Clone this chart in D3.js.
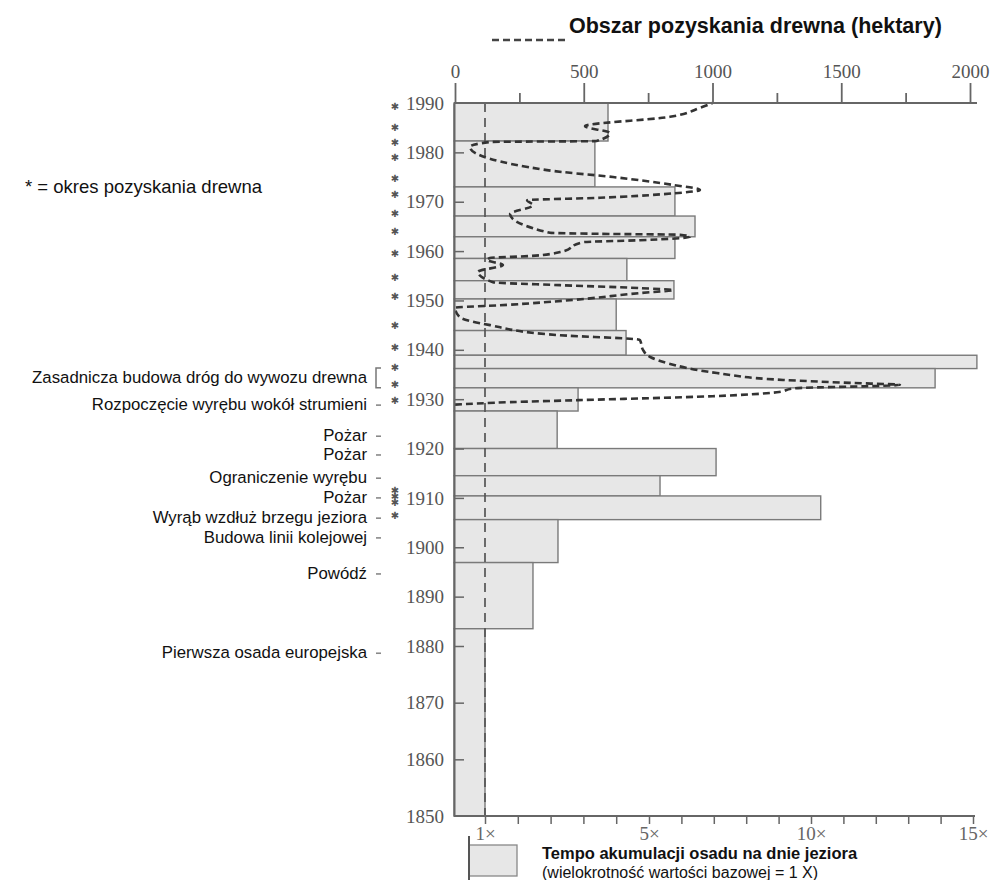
<!DOCTYPE html>
<html>
<head>
<meta charset="utf-8">
<script src="https://cdn.jsdelivr.net/npm/d3@7"></script>
<style>
  body { margin: 0; background: #fff; }
  .serif text { font-family: "Liberation Serif", "DejaVu Serif", serif; }
</style>
</head>
<body>
<script>
// decade ticks on the year axis
const yearTicks = [1990, 1980, 1970, 1960, 1950, 1940, 1930, 1920, 1910, 1900, 1890, 1880, 1870, 1860, 1850];

// sediment accumulation: band edges (years) and rate (multiple of baseline)
const sedimentEdges = [1990, 1982.3, 1973.0, 1967.1, 1962.9, 1958.5, 1954.0, 1950.3, 1943.9, 1938.9,
  1936.2, 1932.3, 1927.6, 1920.0, 1914.5, 1910.4, 1905.6, 1896.9, 1883.5, 1850];
const sedimentRate = [4.0, 3.68, 5.8, 6.42, 5.8, 4.46, 5.77, 4.2, 4.44, 15.12,
  13.83, 3.27, 2.76, 7.07, 5.34, 10.3, 2.78, 2.17, 1.0];

// timber harvest area (hectares) by year
const harvestYear = [1928.9, 1929.4, 1929.8, 1930.6, 1931.4, 1932.2, 1932.9, 1933.3, 1933.9, 1935.3,
  1937.3, 1938.5, 1940.0, 1942.0, 1943.0, 1945.0, 1946.6, 1948.5, 1949.1, 1950.1,
  1951.5, 1952.1, 1952.5, 1953.1, 1953.7, 1955.8, 1957.2, 1958.2, 1958.6, 1959.0,
  1959.8, 1961.8, 1962.2, 1962.9, 1963.3, 1963.5, 1963.7, 1967.5, 1969.3, 1970.3,
  1970.8, 1971.5, 1972.4, 1973.4, 1975.0, 1976.4, 1981.1, 1982.1, 1982.3, 1983.9,
  1985.3, 1987.2, 1989.0, 1990.0];
const harvestArea = [0, 214, 478, 1000, 1250, 1320, 1728, 1534, 1274, 1017,
  825, 760, 730, 718, 396, 136, 19, 0, 202, 458,
  718, 847, 718, 408, 148, 89, 186, 124, 136, 291,
  408, 497, 718, 913, 874, 563, 369, 214, 303, 280,
  563, 800, 951, 847, 614, 357, 58, 136, 550, 602,
  505, 835, 951, 1000];

// harvest-period markers
const starYears = [1989.2, 1985.1, 1981.9, 1978.9, 1974.8, 1971.4, 1967.7, 1963.9, 1959.6, 1954.7,
  1950.7, 1945.0, 1940.4, 1936.5, 1932.9, 1929.8, 1911.6, 1910.2, 1909.0, 1906.5];

// historical events
const eventLabels = ["Zasadnicza budowa dróg do wywozu drewna", "Rozpoczęcie wyrębu wokół strumieni",
  "Pożar", "Pożar", "Ograniczenie wyrębu", "Pożar", "Wyrąb wzdłuż brzegu jeziora",
  "Budowa linii kolejowej", "Powódź", "Pierwsza osada europejska"];
const eventYears = [1934.5, 1929.0, 1922.7, 1918.9, 1914.2, 1910.2, 1906.1, 1902.1, 1894.8, 1878.9];
const roadSpan = [1936.3, 1932.3];

const areaTicks = [0, 250, 500, 750, 1000, 1250, 1500, 1750, 2000];
const rateTicks = [1, 1.8, 2.6, 3.4, 4.2, 5, 6, 7, 8, 9, 10, 11, 12, 13, 14, 15];
const rateLabels = [1, 5, 10, 15];

const width = 990, height = 880;
const sans = "'Liberation Sans', Arial, sans-serif";

const svg = d3.select("body").append("svg")
  .attr("width", width)
  .attr("height", height);

svg.append("rect").attr("width", width).attr("height", height).attr("fill", "#fff");

// scales (the scan is not perfectly linear, so piecewise)
const y = d3.scaleLinear().domain([1850, 1880, 1990]).range([816, 646, 103]);
const xRate = d3.scaleLinear().domain([0, 1, 5, 15]).range([454, 485, 649, 973]);
const xArea = d3.scaleLinear().domain([0, 2000]).range([455, 970]);

// sediment bars
const bars = sedimentRate.map((r, i) => ({ rate: r, top: sedimentEdges[i], bottom: sedimentEdges[i + 1] }));
svg.append("g")
  .selectAll("rect")
  .data(bars)
  .enter()
  .append("rect")
  .attr("x", xRate(0))
  .attr("y", (d) => y(d.top))
  .attr("width", (d) => xRate(d.rate) - xRate(0))
  .attr("height", (d) => y(d.bottom) - y(d.top))
  .attr("fill", "#e7e7e7")
  .attr("stroke", "#7a7a7a")
  .attr("stroke-width", 1.4);

// baseline 1x dashed line
svg.append("line")
  .attr("x1", xRate(1)).attr("x2", xRate(1))
  .attr("y1", y(1990)).attr("y2", y(1850))
  .attr("stroke", "#555")
  .attr("stroke-width", 1.7)
  .attr("stroke-dasharray", "9,6");

// harvest area line
const harvest = harvestYear.map((yr, i) => ({ year: yr, area: harvestArea[i] }));
const line = d3.line()
  .x((d) => xArea(d.area))
  .y((d) => y(d.year))
  .curve(d3.curveMonotoneY);

svg.append("path")
  .datum(harvest)
  .attr("fill", "none")
  .attr("stroke", "#333")
  .attr("stroke-width", 2.6)
  .attr("stroke-dasharray", "7,4")
  .attr("d", line);

// top axis (hectares)
const topAxis = svg.append("g")
  .attr("class", "serif")
  .attr("transform", `translate(0,${y(1990)})`)
  .call(d3.axisTop(xArea).tickValues(areaTicks).tickSize(20).tickPadding(5)
    .tickFormat((d) => (d % 500 === 0 ? d : "")));
topAxis.select(".domain").attr("d", `M${xRate(0)},0H977`).attr("stroke", "#666").attr("stroke-width", 1.8);
topAxis.selectAll(".tick line")
  .attr("stroke", "#666").attr("stroke-width", 1.8)
  .attr("y2", (d) => (d % 500 === 0 ? -20 : -10));
topAxis.selectAll(".tick text").attr("font-size", 19).attr("fill", "#555");

// bottom axis (sediment rate)
const bottomAxis = svg.append("g")
  .attr("class", "serif")
  .attr("transform", `translate(0,${y(1850)})`)
  .call(d3.axisBottom(xRate).tickValues(rateTicks).tickSize(8).tickPadding(3)
    .tickFormat((d) => (rateLabels.includes(d) ? d + "×" : "")));
bottomAxis.select(".domain").attr("d", `M${xRate(0)},0H975`).attr("stroke", "#666").attr("stroke-width", 1.8);
bottomAxis.selectAll(".tick line").attr("stroke", "#666").attr("stroke-width", 1.5);
bottomAxis.selectAll(".tick text").attr("font-size", 19).attr("fill", "#666");

// left axis (years)
const leftAxis = svg.append("g")
  .attr("class", "serif")
  .attr("transform", `translate(${xRate(0)},0)`)
  .call(d3.axisLeft(y).tickValues(yearTicks).tickSize(0).tickPadding(10).tickFormat(d3.format("d")));
leftAxis.select(".domain").attr("stroke", "#666").attr("stroke-width", 2);
leftAxis.selectAll(".tick text").attr("font-size", 19).attr("fill", "#555");

// inner decade ticks
svg.append("g")
  .attr("transform", `translate(${xRate(0)},0)`)
  .call(d3.axisRight(y).tickValues(yearTicks.slice(1, -1)).tickSize(10).tickFormat(""))
  .call((g) => g.select(".domain").remove())
  .selectAll(".tick line").attr("stroke", "#666").attr("stroke-width", 1.5);

// harvest-period stars
svg.append("g")
  .selectAll("text")
  .data(starYears)
  .enter()
  .append("text")
  .attr("x", 395)
  .attr("y", (d) => y(d))
  .attr("dy", "0.35em")
  .attr("text-anchor", "middle")
  .attr("font-family", "'DejaVu Sans', sans-serif")
  .attr("font-size", 10)
  .attr("fill", "#555")
  .text("✱");

// event labels with small markers
const events = eventLabels.map((t, i) => ({ label: t, year: eventYears[i] }));
const ev = svg.append("g");
ev.selectAll("text")
  .data(events)
  .enter()
  .append("text")
  .attr("x", 367)
  .attr("y", (d) => y(d.year))
  .attr("dy", "0.35em")
  .attr("text-anchor", "end")
  .attr("font-family", sans)
  .attr("font-size", 16.8)
  .attr("fill", "#111")
  .text((d) => d.label);
ev.selectAll("line")
  .data(events.slice(1))
  .enter()
  .append("line")
  .attr("x1", 376).attr("x2", 381)
  .attr("y1", (d) => y(d.year) + 1).attr("y2", (d) => y(d.year) + 1)
  .attr("stroke", "#888")
  .attr("stroke-width", 1.6);

// bracket for road building period
svg.append("path")
  .attr("d", `M381,${y(roadSpan[0])}H376V${y(roadSpan[1])}H381`)
  .attr("fill", "none")
  .attr("stroke", "#777")
  .attr("stroke-width", 1.5);

// star note
svg.append("text")
  .attr("x", 25).attr("y", 187).attr("dy", "0.35em")
  .attr("font-family", sans).attr("font-size", 18.5).attr("fill", "#111")
  .text("* = okres pozyskania drewna");

// top legend: harvest line
svg.append("line")
  .attr("x1", 492).attr("x2", 565).attr("y1", 40).attr("y2", 40)
  .attr("stroke", "#444").attr("stroke-width", 2.6).attr("stroke-dasharray", "7,4");
svg.append("text")
  .attr("x", 569).attr("y", 25).attr("dy", "0.35em")
  .attr("font-family", sans).attr("font-size", 21.5).attr("font-weight", "bold").attr("fill", "#111")
  .text("Obszar pozyskania drewna (hektary)");

// bottom legend: sediment bar
svg.append("rect")
  .attr("x", 469).attr("y", 845).attr("width", 48).attr("height", 31)
  .attr("fill", "#e7e7e7").attr("stroke", "#888").attr("stroke-width", 1.3);
svg.append("line")
  .attr("x1", 469).attr("x2", 469).attr("y1", 836).attr("y2", 880)
  .attr("stroke", "#555").attr("stroke-width", 2);
svg.append("text")
  .attr("x", 542).attr("y", 853).attr("dy", "0.35em")
  .attr("font-family", sans).attr("font-size", 16.5).attr("font-weight", "bold").attr("fill", "#111")
  .text("Tempo akumulacji osadu na dnie jeziora");
svg.append("text")
  .attr("x", 542).attr("y", 872).attr("dy", "0.35em")
  .attr("font-family", sans).attr("font-size", 16).attr("fill", "#111")
  .text("(wielokrotność wartości bazowej = 1 X)");
</script>
</body>
</html>
